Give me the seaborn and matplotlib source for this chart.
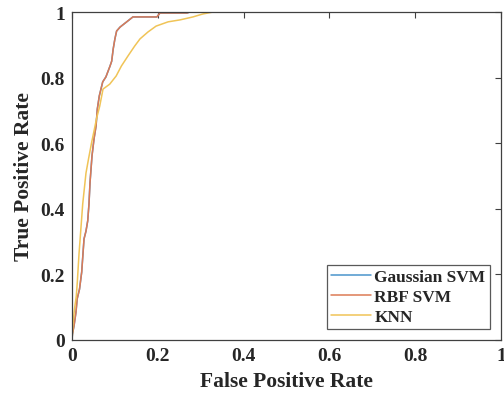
import numpy as np
import pandas as pd
import matplotlib
matplotlib.use("Agg")
import matplotlib.pyplot as plt
import seaborn as sns

# ROC data
rbf_fpr = [0, 0.001, 0.0047, 0.0093, 0.012, 0.0175, 0.0226, 0.028, 0.0326, 0.0366, 0.0396,
           0.042, 0.0466, 0.0513, 0.056, 0.059, 0.0636, 0.0716, 0.079, 0.0886, 0.0925,
           0.096, 0.100, 0.104, 0.112, 0.1275, 0.142, 0.198, 0.205, 0.268, 0.275, 1.0]
rbf_tpr = [0, 0.018, 0.043, 0.085, 0.125, 0.155, 0.207, 0.308, 0.332, 0.363, 0.415,
           0.480, 0.561, 0.613, 0.652, 0.704, 0.744, 0.787, 0.802, 0.835, 0.850,
           0.887, 0.918, 0.942, 0.954, 0.970, 0.985, 0.985, 0.997, 0.997, 1.0, 1.0]

gauss_fpr = [0, 0.001, 0.0047, 0.0093, 0.012, 0.0175, 0.0226, 0.028, 0.0326, 0.0366, 0.0396,
             0.042, 0.0466, 0.0513, 0.056, 0.059, 0.0636, 0.0716, 0.079, 0.0886, 0.0925,
             0.096, 0.100, 0.104, 0.112, 0.1275, 0.142, 0.198, 0.205, 0.268, 0.275, 1.0]
gauss_tpr = [0, 0.018, 0.043, 0.085, 0.125, 0.155, 0.207, 0.308, 0.332, 0.363, 0.415,
             0.480, 0.561, 0.613, 0.652, 0.704, 0.744, 0.787, 0.802, 0.835, 0.850,
             0.887, 0.918, 0.942, 0.954, 0.970, 0.985, 0.985, 0.997, 0.997, 1.0, 1.0]

knn_fpr = [0, 0.0023, 0.0058, 0.010, 0.0124, 0.0163, 0.0198, 0.025, 0.0326, 0.0385, 0.046,
           0.0513, 0.057, 0.0646, 0.0723, 0.0879, 0.103, 0.115, 0.1305, 0.146, 0.1585,
           0.177, 0.196, 0.224, 0.252, 0.282, 0.305, 0.329, 1.0]
knn_tpr = [0, 0.049, 0.0945, 0.134, 0.177, 0.262, 0.323, 0.415, 0.509, 0.552, 0.604,
           0.637, 0.674, 0.713, 0.765, 0.780, 0.805, 0.835, 0.866, 0.896, 0.918,
           0.939, 0.957, 0.970, 0.976, 0.985, 0.994, 1.0, 1.0]

series_names = ["Gaussian SVM", "RBF SVM", "KNN"]
x_ticks = [0, 0.2, 0.4, 0.6, 0.8, 1]
x_tick_labels = ["0", "0.2", "0.4", "0.6", "0.8", "1"]
y_ticks = [0, 0.2, 0.4, 0.6, 0.8, 1]
y_tick_labels = ["0", "0.2", "0.4", "0.6", "0.8", "1"]

frames = []
for name, fx, ty in zip(series_names, [gauss_fpr, rbf_fpr, knn_fpr], [gauss_tpr, rbf_tpr, knn_tpr]):
    frames.append(pd.DataFrame({"fpr": fx, "tpr": ty, "model": name, "order": np.arange(len(fx))}))
df = pd.concat(frames, ignore_index=True)

sns.set_theme(style="white")
plt.rcParams['font.family'] = ['Liberation Serif', 'DejaVu Serif']
plt.rcParams['font.weight'] = 'bold'

fig = plt.figure(figsize=(5.04, 4.02), dpi=100)
ax = fig.add_axes([72/504, 1-341/402, (501-72)/504, (341-13)/402])

palette = {"Gaussian SVM": "#4A94CC", "RBF SVM": "#DC7A55", "KNN": "#F0C457"}
sns.lineplot(data=df, x="fpr", y="tpr", hue="model", hue_order=series_names,
             palette=palette, sort=False, estimator=None, units="model",
             linewidth=1.1, ax=ax, legend=True)

ax.set_xlim(0, 1)
ax.set_ylim(0, 1)
ax.set_xticks(x_ticks)
ax.set_xticklabels(x_tick_labels)
ax.set_yticks(y_ticks)
ax.set_yticklabels(y_tick_labels)
ax.tick_params(direction='in', length=4, width=0.8, color='#404040',
               top=True, right=True, labelsize=14, pad=5)
for lab in ax.get_xticklabels() + ax.get_yticklabels():
    lab.set_fontweight('bold')
for s in ax.spines.values():
    s.set_visible(True)
    s.set_color('#404040')
    s.set_linewidth(0.9)

ax.set_xlabel("False Positive Rate", fontsize=15.5, fontweight='bold', labelpad=5)
ax.set_ylabel("True Positive Rate", fontsize=15.5, fontweight='bold', labelpad=5)

leg = ax.legend(loc='lower right', bbox_to_anchor=(0.974, 0.0335), borderaxespad=0,
                frameon=True, fancybox=False, edgecolor='#303030',
                handlelength=2.3, handletextpad=0.2, borderpad=0.25, labelspacing=0.2,
                prop={'weight': 'bold', 'size': 12.5})
leg.get_frame().set_linewidth(0.9)
for line in leg.get_lines():
    line.set_linewidth(1.1)

fig.savefig("out.png", dpi=100)
